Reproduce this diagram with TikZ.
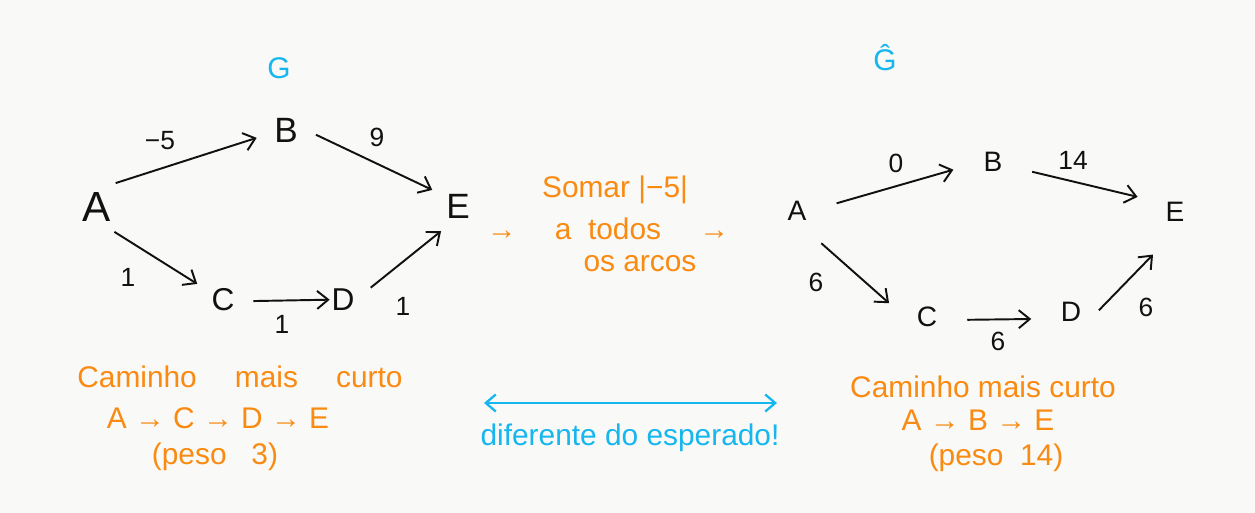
\documentclass[tikz,border=0pt]{standalone}
\usepackage{fontspec}
\setmainfont{Liberation Sans}
\usepackage{amsmath}
\usetikzlibrary{arrows.meta}
\definecolor{pen}{HTML}{111111}
\definecolor{hlorange}{HTML}{F98A12}
\definecolor{hlcyan}{HTML}{16B6EE}
\definecolor{paper}{HTML}{F9F9F7}

\tikzset{
	vtx/.style={circle, minimum size=#1, inner sep=0pt, text=pen},
	arc/.style={-{Straight Barb[length=2.2mm, width=3.6mm]}, line width=1.1pt, draw=pen},
	wgt/.style={text=pen, font=\fontsize{15}{18}\selectfont},
	note/.style={text=hlorange, font=\fontsize{17}{20}\selectfont},
	remark/.style={text=hlcyan, font=\fontsize{17}{20}\selectfont},
}

\begin{document}
\begin{tikzpicture}[x=0.02cm, y=-0.02cm]
				\fill[paper] (0,0) rectangle (1255,513);
				\useasboundingbox (0,0) rectangle (1255,513);
				% grafo original
				\node[remark] (G) at (279, 68) {G};
				\node[vtx=1.2cm, font=\fontsize{24}{28}\selectfont] (A) at (97, 207) {A};
				\node[vtx=1.2cm, font=\fontsize{20}{24}\selectfont] (B) at (286, 130) {B};
				\node[vtx=1.2cm, font=\fontsize{18}{22}\selectfont] (C) at (223, 300) {C};
				\node[vtx=1.2cm, font=\fontsize{18}{22}\selectfont] (D) at (343, 300) {D};
				\node[vtx=1.2cm, font=\fontsize{20}{24}\selectfont] (E) at (458, 206) {E};
				\draw[arc] (A.52) -- (B.195);
				\draw[arc] (B.351) -- (E.148);
				\draw[arc] (A.305) -- (C.148);
				\draw[arc, shorten >=-0.34cm] (C.358) -- (D.180);
				\draw[arc] (D.24) -- (E.236);
				\node[wgt] (wAB) at (160, 141) {−5};
				\node[wgt] (wBE) at (377, 137) {9};
				\node[wgt] (wAC) at (128, 277) {1};
				\node[wgt] (wCD) at (282, 324) {1};
				\node[wgt] (wDE) at (403, 306) {1};
				% caminho em G
				\node[note] (cam) at (240, 377) {Caminho \quad mais \quad curto};
				\node[note] (path) at (218, 418) {A → C → D → E};
				\node[note] (peso) at (215, 457) {(peso \ \ 3)};
				% passo do meio
				\node[note] (somar) at (615, 190) {Somar |−5|};
				\node[note] (todos) at (608, 229) {→ \quad a \ todos \quad →};
				\node[note] (arcos) at (640, 264) {os arcos};
				\coordinate (dl) at (484, 403);
				\coordinate (dr) at (777, 403);
				\draw[{Straight Barb[length=2mm, width=3.4mm]}-{Straight Barb[length=2mm, width=3.4mm]}, line width=1.3pt, hlcyan] (dl) -- (dr);
				\node[remark] (dif) at (630, 438) {diferente do esperado!};
				% grafo reponderado
				\node[remark] (Gh) at (885, 58) {\^{G}};
				\node[vtx=1.6cm, font=\fontsize{16}{20}\selectfont] (A2) at (797, 211) {A};
				\node[vtx=1.6cm, font=\fontsize{16}{20}\selectfont] (B2) at (993, 162) {B};
				\node[vtx=1.6cm, font=\fontsize{16}{20}\selectfont] (C2) at (927, 317) {C};
				\node[vtx=1.6cm, font=\fontsize{16}{20}\selectfont] (D2) at (1071, 312) {D};
				\node[vtx=1.6cm, font=\fontsize{16}{20}\selectfont] (E2) at (1175, 212) {E};
				\draw[arc] (A2.11) -- (B2.191);
				\draw[arc] (B2.346) -- (E2.158);
				\draw[arc] (A2.307) -- (C2.160);
				\draw[arc] (C2.356) -- (D2.190);
				\draw[arc, shorten <=-0.3cm, shorten >=0.16cm] (D2.18) -- (E2.246);
				\node[wgt] (wAB2) at (896, 163) {0};
				\node[wgt] (wBE2) at (1073, 160) {14};
				\node[wgt] (wAC2) at (816, 282) {6};
				\node[wgt] (wCD2) at (998, 341) {6};
				\node[wgt] (wDE2) at (1146, 307) {6};
				% caminho em G chapeu
				\node[note] (cam2) at (983, 387) {Caminho mais curto};
				\node[note] (path2) at (978, 420) {A → B → E};
				\node[note] (peso2) at (996, 458) {(peso \ 14)};
			\end{tikzpicture}
\end{document}
